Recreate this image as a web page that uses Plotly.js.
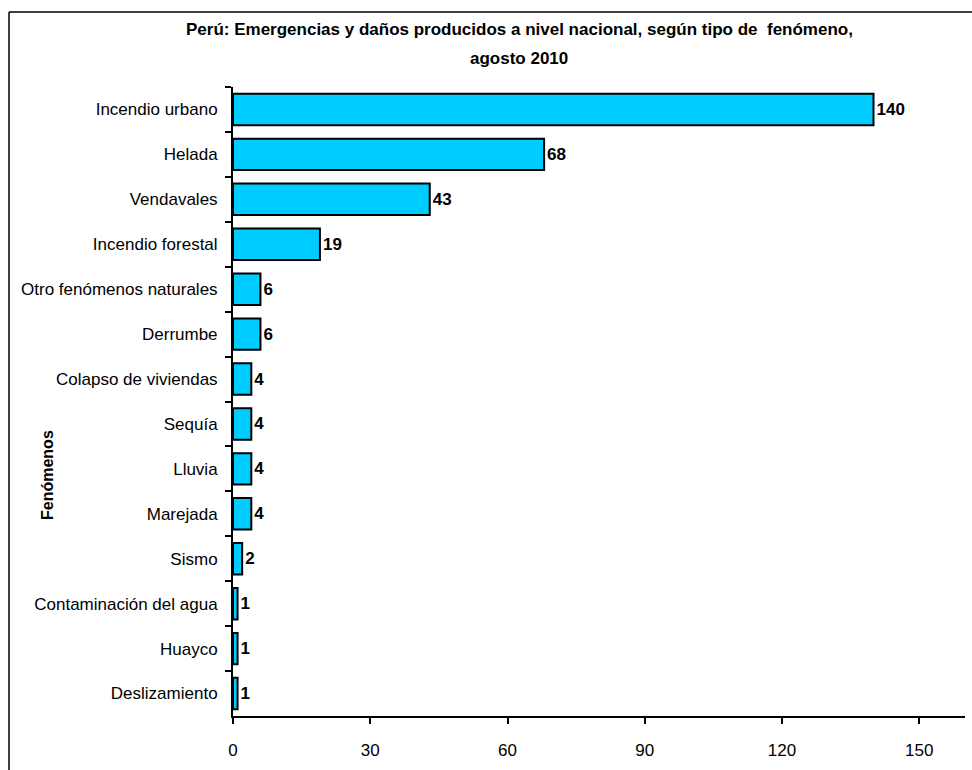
<!DOCTYPE html>
<html>
<head>
<meta charset="utf-8">
<script src="https://cdn.plot.ly/plotly-3.0.1.min.js"></script>
<style>html,body{margin:0;padding:0;background:#fff;}#chart{width:972px;height:770px;}</style>
</head>
<body>
<div id="chart"></div>
<script>
const categories = ["Incendio urbano","Helada","Vendavales","Incendio forestal","Otro fenómenos naturales","Derrumbe","Colapso de viviendas","Sequía","Lluvia","Marejada","Sismo","Contaminación del agua","Huayco","Deslizamiento"];
const values = [140,68,43,19,6,6,4,4,4,4,2,1,1,1];
const xTicks = [0,30,60,90,120,150];
const titleLines = ["Perú: Emergencias y daños producidos a nivel nacional, según tipo de  fenómeno,", "agosto 2010"];

const FONT = "'Liberation Sans Narrow','Arial Narrow','Liberation Sans',Arial,sans-serif";

const trace = {
  type: 'bar',
  orientation: 'h',
  x: values,
  y: categories,
  width: 0.7,
  marker: {color: '#00CCFF', line: {color: '#000000', width: 2}},
  text: values.map(String),
  textposition: 'outside',
  cliponaxis: false,
  textfont: {family: FONT, size: 17, color: '#000', weight: 'bold'},
  hoverinfo: 'none'
};

const PW = 732, PH = 629;
const layout = {
  width: 972, height: 770,
  margin: {l: 233, r: 7, t: 87, b: 54},
  paper_bgcolor: '#fff', plot_bgcolor: '#fff',
  showlegend: false,
  font: {family: FONT, size: 17, color: '#000'},
  xaxis: {
    range: [0, 160],
    tickvals: xTicks,
    ticktext: xTicks.map(String),
    showgrid: false, zeroline: false,
    showline: true, linecolor: '#000', linewidth: 2,
    ticks: 'outside', ticklen: 6, tickwidth: 2, tickcolor: '#000',
    ticklabelstandoff: 12,
    tickfont: {family: FONT, size: 17, color: '#000'},
    fixedrange: true
  },
  yaxis: {
    type: 'category',
    categoryorder: 'array', categoryarray: categories,
    autorange: 'reversed',
    showgrid: false, zeroline: false,
    showline: true, linecolor: '#000', linewidth: 2,
    ticks: 'outside', ticklen: 6, tickwidth: 2, tickcolor: '#000',
    tickson: 'boundaries',
    ticklabelstandoff: 10,
    tickfont: {family: FONT, size: 17, color: '#000'},
    fixedrange: true
  },
  annotations: [
    {
      text: '<b>Fenómenos</b>', textangle: -90,
      xref: 'paper', yref: 'paper',
      x: (47 - 233) / PW, y: 1 - (475 - 87) / PH,
      xanchor: 'center', yanchor: 'middle', showarrow: false,
      font: {family: FONT, size: 16, color: '#000'}
    },
    {
      text: '<b>' + titleLines[0] + '</b>',
      xref: 'paper', yref: 'paper',
      x: (519 - 233) / PW, y: 1 + (87 - 30) / PH,
      xanchor: 'center', yanchor: 'middle', showarrow: false,
      font: {family: FONT, size: 17, color: '#000'}
    },
    {
      text: '<b>' + titleLines[1] + '</b>',
      xref: 'paper', yref: 'paper',
      x: (519 - 233) / PW, y: 1 + (87 - 58) / PH,
      xanchor: 'center', yanchor: 'middle', showarrow: false,
      font: {family: FONT, size: 17, color: '#000'}
    }
  ],
  shapes: [
    {type: 'line', xref: 'paper', yref: 'paper', x0: (9 - 233) / PW, x1: (972 - 233) / PW, y0: 1 + (87 - 12) / PH, y1: 1 + (87 - 12) / PH, line: {color: '#000', width: 1.5}},
    {type: 'line', xref: 'paper', yref: 'paper', x0: (9 - 233) / PW, x1: (9 - 233) / PW, y0: 1 + (87 - 12) / PH, y1: -(770 - 716) / PH, line: {color: '#000', width: 1.5}}
  ]
};

Plotly.newPlot('chart', [trace], layout, {displayModeBar: false, staticPlot: true});
</script>
</body>
</html>
